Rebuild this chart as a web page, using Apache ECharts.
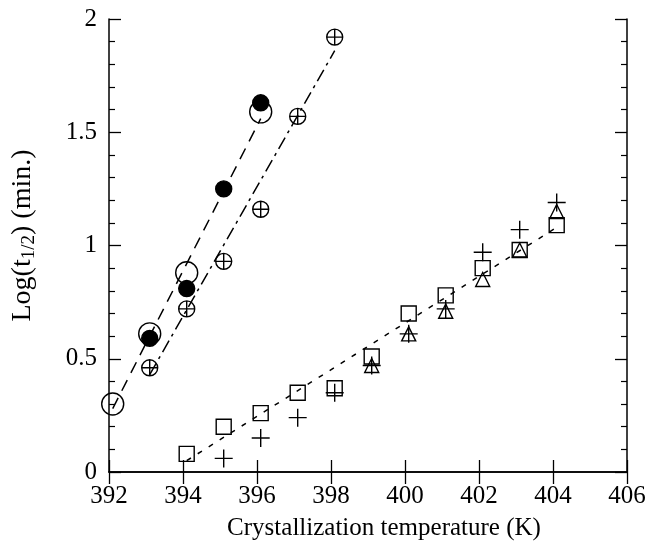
<!DOCTYPE html>
<html>
<head>
<meta charset="utf-8">
<script src="https://cdn.jsdelivr.net/npm/echarts@6/dist/echarts.min.js"></script>
<style>
  html, body { margin: 0; padding: 0; background: #fff; }
  #chart { width: 648px; height: 547px; }
</style>
</head>
<body>
<div id="chart"></div>
<script>
// tick labels
const xTicks = ['392', '394', '396', '398', '400', '402', '404', '406']
const yTicks = ['0', '0.5', '1', '1.5', '2']

// open circles (large)
const openCircleT = [392.1, 393.1, 394.1, 396.1]
const openCircleY = [0.30, 0.61, 0.88, 1.59]
// filled circles
const filledT = [393.1, 394.1, 395.1, 396.1]
const filledY = [0.59, 0.81, 1.25, 1.63]
// crossed circles
const crossT = [393.1, 394.1, 395.1, 396.1, 397.1, 398.1]
const crossY = [0.46, 0.72, 0.93, 1.16, 1.57, 1.92]
// open squares
const squareT = [394.1, 395.1, 396.1, 397.1, 398.1, 399.1, 400.1, 401.1, 402.1, 403.1, 404.1]
const squareY = [0.08, 0.20, 0.26, 0.35, 0.37, 0.51, 0.70, 0.78, 0.90, 0.98, 1.09]
// plus signs
const plusT = [395.1, 396.1, 397.1, 398.1, 399.1, 400.1, 401.1, 402.1, 403.1, 404.1]
const plusY = [0.06, 0.15, 0.24, 0.35, 0.47, 0.61, 0.72, 0.97, 1.07, 1.19]
// open triangles
const triT = [399.1, 400.1, 401.1, 402.1, 403.1, 404.1]
const triY = [0.47, 0.61, 0.71, 0.85, 0.98, 1.15]

// fitted lines (end points)
const fitCircleT = [392.1, 396.1]
const fitCircleY = [0.28, 1.56]
const fitCrossT = [393.1, 398.1]
const fitCrossY = [0.43, 1.86]
const fitSquareT = [394.1, 404.1]
const fitSquareY = [0.05, 1.08]

function pairs (xs, ys) {
  return xs.map((x, i) => [x, ys[i]])
}

const serif = 'Liberation Serif'
const crossPath = 'path://M0,-10A10,10 0 1,1 0,10A10,10 0 1,1 0,-10Z M-10,0L10,0 M0,-10L0,10'
const plusPath = 'path://M0,-10L0,10M-10,0L10,0'

function markers (name, data, symbol, size, fill) {
  return {
    name: name,
    type: 'scatter',
    data: data,
    symbol: symbol,
    symbolSize: size,
    z: 3,
    itemStyle: {
      color: fill || 'rgba(0,0,0,0)',
      opacity: 1,
      borderColor: '#000',
      borderWidth: 1.4
    }
  }
}

function fitLine (data, dash) {
  return {
    type: 'line',
    data: data,
    symbol: 'none',
    z: 2,
    lineStyle: { color: '#000', width: 1.5, type: dash }
  }
}

let option = {
  animation: false,
  backgroundColor: '#fff',
  grid: { left: 109, right: 21, top: 19, bottom: 75, outerBoundsMode: 'none', containLabel: false },
  xAxis: [
    {
      type: 'value',
      min: 392,
      max: 406,
      interval: 2,
      name: 'Crystallization temperature (K)',
      nameLocation: 'middle',
      nameGap: 44,
      nameTextStyle: { fontFamily: serif, fontSize: 25, color: '#000', padding: [0, 0, 0, 32] },
      axisLine: { lineStyle: { color: '#000', width: 1.5 } },
      axisTick: { inside: true, length: 12, lineStyle: { color: '#000', width: 1.3 } },
      axisLabel: {
        margin: 12,
        fontFamily: serif,
        fontSize: 25,
        color: '#000',
        formatter: v => xTicks[Math.round((v - 392) / 2)]
      },
      splitLine: { show: false }
    },
    {
      type: 'value',
      position: 'top',
      min: 392,
      max: 406,
      interval: 2,
      axisLine: { lineStyle: { color: '#000', width: 1.5 } },
      axisTick: { inside: true, length: 12, lineStyle: { color: '#000', width: 1.3 } },
      axisLabel: { show: false },
      splitLine: { show: false }
    }
  ],
  yAxis: [
    {
      type: 'value',
      min: 0,
      max: 2,
      interval: 0.5,
      name: 'Log(t{sub|1/2}) (min.)',
      nameLocation: 'middle',
      nameGap: 70,
      nameTextStyle: {
        fontFamily: serif,
        fontSize: 28,
        color: '#000',
        padding: [0, 0, 0, 20],
        rich: {
          sub: { fontFamily: serif, fontSize: 19, color: '#000', verticalAlign: 'bottom', padding: [13, 0, 0, 0] }
        }
      },
      axisLine: { lineStyle: { color: '#000', width: 1.5 } },
      axisTick: { inside: true, length: 12, lineStyle: { color: '#000', width: 1.3 } },
      minorTick: { show: true, splitNumber: 5, length: 6, lineStyle: { color: '#000', width: 1.2 } },
      axisLabel: {
        margin: 12,
        fontFamily: serif,
        fontSize: 25,
        color: '#000',
        padding: [4, 0, 0, 0],
        formatter: v => yTicks[Math.round(v / 0.5)]
      },
      splitLine: { show: false },
      minorSplitLine: { show: false }
    },
    {
      type: 'value',
      position: 'right',
      min: 0,
      max: 2,
      interval: 0.5,
      axisLine: { lineStyle: { color: '#000', width: 1.5 } },
      axisTick: { inside: true, length: 12, lineStyle: { color: '#000', width: 1.3 } },
      minorTick: { show: true, splitNumber: 5, length: 6, lineStyle: { color: '#000', width: 1.2 } },
      axisLabel: { show: false },
      splitLine: { show: false },
      minorSplitLine: { show: false }
    }
  ],
  series: [
    fitLine(pairs(fitCircleT, fitCircleY), [12, 8]),
    fitLine(pairs(fitCrossT, fitCrossY), [13, 5, 3, 5]),
    fitLine(pairs(fitSquareT, fitSquareY), [5, 8]),
    markers('open circle', pairs(openCircleT, openCircleY), 'circle', 22),
    markers('filled circle', pairs(filledT, filledY), 'circle', 16, '#000'),
    markers('crossed circle', pairs(crossT, crossY), crossPath, 16),
    markers('square', pairs(squareT, squareY), 'rect', 15),
    markers('plus', pairs(plusT, plusY), plusPath, 18),
    markers('triangle', pairs(triT, triY), 'triangle', 14)
  ]
}

let mychart = echarts.init(document.getElementById('chart'))
mychart.setOption(option)
</script>
</body>
</html>
